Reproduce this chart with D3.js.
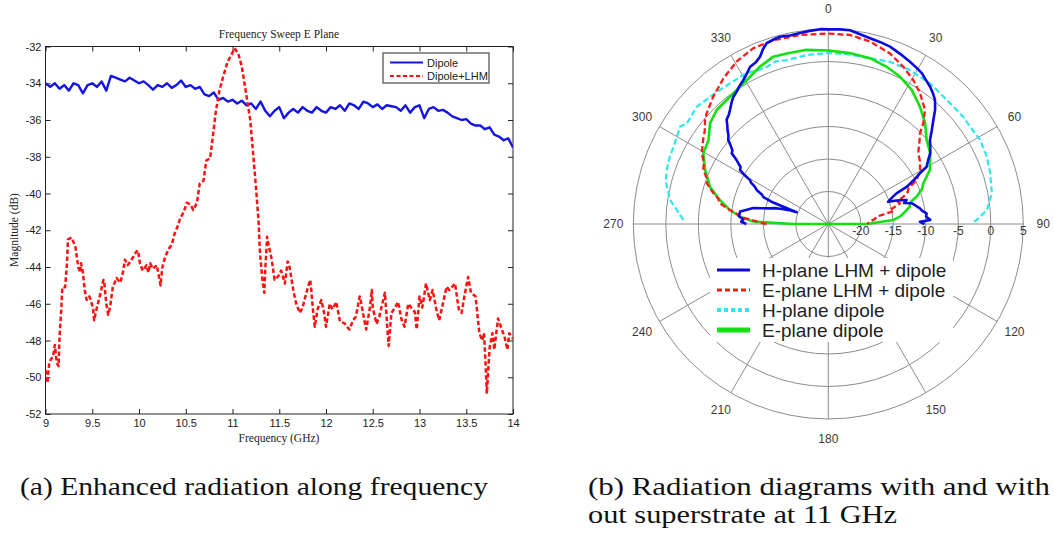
<!DOCTYPE html>
<html>
<head>
<meta charset="utf-8">
<script src="https://cdn.jsdelivr.net/npm/d3@7"></script>
<style>
  body { margin: 0; background: #fff; }
  svg { display: block; }
</style>
</head>
<body>
<svg id="fig" width="1054" height="536"></svg>
<script>
// ---------- (a) frequency sweep, E plane ----------
const freqTicks = [9, 9.5, 10, 10.5, 11, 11.5, 12, 12.5, 13, 13.5, 14];
const freqTickLabels = ["9", "9.5", "10", "10.5", "11", "11.5", "12", "12.5", "13", "13.5", "14"];
const magTicks = [-52, -50, -48, -46, -44, -42, -40, -38, -36, -34, -32];
const magTickLabels = ["-52", "-50", "-48", "-46", "-44", "-42", "-40", "-38", "-36", "-34", "-32"];
const sweepSeries = ["Dipole", "Dipole+LHM"];

// Dipole alone: frequency (GHz) and magnitude (dB)
const dipoleFreq = [9.00,9.05,9.10,9.15,9.20,9.25,9.30,9.35,9.40,9.45,9.50,9.55,9.60,9.65,9.70,9.75,9.80,9.85,9.90,9.95,
  10.00,10.05,10.10,10.15,10.20,10.25,10.30,10.35,10.40,10.45,10.50,10.55,10.60,10.65,10.70,10.75,10.80,10.85,10.90,10.95,
  11.00,11.05,11.10,11.15,11.20,11.25,11.30,11.35,11.40,11.45,11.50,11.55,11.60,11.65,11.70,11.75,11.80,11.85,11.90,11.95,
  12.00,12.05,12.10,12.15,12.20,12.25,12.30,12.35,12.40,12.45,12.50,12.55,12.60,12.65,12.70,12.75,12.80,12.85,12.90,12.95,
  13.00,13.05,13.10,13.15,13.20,13.25,13.30,13.35,13.40,13.45,13.50,13.55,13.60,13.65,13.70,13.75,13.80,13.85,13.90,13.95,14.00];
const dipoleMag = [-34.0,-34.2,-34.0,-34.3,-34.1,-34.4,-34.0,-34.1,-34.55,-34.1,-34.0,-34.2,-33.9,-34.4,-33.6,-33.7,-33.8,-33.9,-33.7,-33.85,
  -34.0,-33.9,-34.1,-34.35,-34.1,-34.2,-34.0,-34.25,-34.1,-33.85,-34.2,-34.1,-34.3,-34.2,-34.6,-34.7,-34.5,-34.9,-34.8,-35.0,
  -34.9,-35.1,-34.95,-35.2,-35.1,-35.4,-35.0,-35.5,-35.8,-35.5,-35.3,-35.9,-35.6,-35.4,-35.6,-35.3,-35.5,-35.6,-35.3,-35.5,
  -35.6,-35.3,-35.4,-35.2,-35.5,-35.1,-35.2,-35.4,-35.0,-35.1,-35.3,-35.15,-35.4,-35.2,-35.25,-35.3,-35.5,-35.2,-35.6,-35.3,
  -35.2,-35.9,-35.4,-35.3,-35.5,-35.45,-35.6,-35.8,-35.9,-36.0,-35.95,-36.2,-36.3,-36.3,-36.5,-36.4,-36.8,-36.9,-37.1,-37.0,-37.5];

// Dipole with LHM superstrate
const lhmFreq = [9.00,9.02,9.04,9.06,9.08,9.10,9.12,9.14,9.15,9.17,9.18,9.21,9.23,9.24,9.28,9.32,9.35,9.37,9.38,9.40,
  9.42,9.44,9.47,9.49,9.51,9.52,9.55,9.58,9.60,9.62,9.63,9.65,9.67,9.69,9.72,9.76,9.80,9.83,9.85,9.88,
  9.92,9.97,9.99,10.01,10.04,10.08,10.10,10.12,10.15,10.19,10.22,10.23,10.25,10.28,10.32,10.35,10.38,10.42,10.44,10.48,
  10.51,10.55,10.58,10.62,10.65,10.69,10.72,10.76,10.79,10.82,10.86,10.90,10.95,10.99,11.02,11.06,11.10,11.15,11.19,11.22,
  11.25,11.28,11.29,11.30,11.32,11.34,11.35,11.37,11.39,11.42,11.45,11.49,11.52,11.56,11.59,11.61,11.65,11.68,11.72,11.75,
  11.79,11.83,11.84,11.86,11.88,11.91,11.95,11.98,12.00,12.04,12.07,12.11,12.15,12.20,12.25,12.29,12.32,12.36,12.37,12.41,
  12.43,12.47,12.49,12.50,12.54,12.57,12.63,12.66,12.67,12.70,12.74,12.77,12.81,12.84,12.88,12.91,12.95,12.97,13.00,13.03,
  13.07,13.11,13.14,13.18,13.21,13.25,13.29,13.32,13.38,13.42,13.45,13.48,13.52,13.55,13.60,13.64,13.67,13.69,13.71,13.72,
  13.75,13.78,13.80,13.84,13.88,13.91,13.94,13.96,14.00];
const lhmMag = [-49.6,-50.3,-49.2,-49.0,-48.9,-48.25,-49.2,-49.4,-47.8,-46.2,-45.1,-45.1,-43.8,-42.5,-42.4,-42.9,-44.0,-44.3,-43.8,-44.3,
  -45.25,-45.8,-45.6,-45.9,-46.3,-46.9,-46.2,-45.6,-45.15,-44.7,-44.9,-46.0,-46.6,-46.2,-45.1,-44.6,-44.85,-44.25,-43.6,-43.9,
  -43.6,-43.17,-43.1,-43.8,-44.2,-43.9,-44.3,-43.8,-44.1,-43.9,-44.7,-45.0,-44.0,-43.44,-43.0,-42.8,-42.2,-41.7,-41.35,-41.0,
  -40.5,-40.6,-40.9,-40.5,-39.45,-39.3,-38.2,-38.1,-36.9,-35.6,-34.4,-33.64,-32.8,-32.45,-32.1,-32.35,-33.1,-34.7,-36.0,-37.8,
  -39.6,-41.6,-42.9,-43.6,-44.7,-45.4,-44.2,-42.35,-42.9,-43.6,-44.7,-44.5,-44.2,-44.9,-43.7,-44.0,-45.25,-45.97,-46.5,-46.2,
  -45.4,-44.7,-45.1,-46.3,-47.25,-46.3,-45.8,-46.5,-47.25,-46.0,-46.3,-45.9,-46.98,-47.07,-47.4,-46.9,-46.7,-45.6,-45.8,-46.9,
  -47.4,-46.2,-45.25,-46.2,-47.1,-46.7,-45.4,-47.6,-48.3,-46.5,-46.2,-45.9,-46.9,-47.25,-46.0,-46.2,-46.45,-47.4,-45.6,-46.2,
  -44.9,-45.8,-45.25,-46.3,-46.9,-46.0,-45.07,-45.25,-44.9,-46.3,-46.5,-45.6,-44.54,-45.4,-45.6,-47.6,-48.0,-47.6,-49.6,-50.9,
  -48.4,-47.6,-48.5,-46.8,-47.4,-47.8,-48.5,-47.6,-47.9];

// ---------- (b) radiation diagrams at 11 GHz ----------
const angleTicks = [0, 30, 60, 90, 120, 150, 180, 210, 240, 270, 300, 330];
const ringValues = [-20, -15, -10, -5, 0, 5];
const ringLabels = ["-20", "-15", "-10", "-5", "0", "5"];
const patternSeries = ["H-plane LHM + dipole", "E-plane LHM + dipole", "H-plane dipole", "E-plane dipole"];

// [angle in degrees clockwise from broadside, level in dB]
const hPlaneLhm = [[-90,-12.4],[-88.5,-11.6],[-87,-11.9],[-85,-11.2],[-82,-11.3],[-80,-12.3],[-78,-13.2],[-76.5,-14.6],[-75,-15.7],
  [-73.5,-16.4],[-72,-17.5],[-70.5,-18.6],[-69.5,-19.8],[-69,-17.6],[-68.6,-15.6],[-67.5,-14.2],[-66,-13.8],[-64.6,-12.8],
  [-63,-12.3],[-61.8,-11.5],[-60.7,-11.2],[-59.5,-9.9],[-58.6,-9.1],[-57,-8.9],[-55.8,-8.2],[-55.1,-7.8],[-53.8,-6.6],
  [-52.5,-6.4],[-51,-5.6],[-50,-4.9],[-48.5,-4.5],[-47,-3.8],[-45.5,-3.2],[-44.3,-2.6],[-42.5,-2.3],[-40.8,-1.85],
  [-38.5,-1.1],[-36.7,-0.57],[-34.5,-0.2],[-33,0.2],[-30.6,0.7],[-28.5,1.3],[-26.5,2.0],[-24,2.3],[-22.2,2.8],[-20.5,3.7],
  [-18.8,4.4],[-16.5,4.6],[-14.5,4.75],[-11.5,4.6],[-8.4,4.7],[-5.5,4.85],[-2.4,5.0],[0.5,4.95],[3.5,5.0],[6.4,5.0],
  [9.5,4.6],[12.7,4.3],[16,4.1],[19.2,3.9],[23,3.4],[26.7,2.95],[29.5,2.6],[31.8,2.3],[34,1.8],[36.5,1.3],[38.5,0.8],
  [40.7,0.17],[43,-0.9],[45.3,-2.26],[48,-3.6],[50.4,-4.7],[52.8,-5.3],[55.2,-5.9],[57.5,-6.8],[59.8,-7.5],[61,-8.9],
  [62.8,-10.2],[64.6,-11.6],[65.8,-13.5],[67.5,-14.4],[69.6,-15.2],[71,-13.9],[73,-12.4],[74.5,-12.9],[76,-11.8],
  [78,-11.3],[80.3,-10.7],[82,-10.4],[83.8,-9.8],[85.8,-9.9],[87.7,-9.3],[88.6,-10.9],[90,-10.2]];
const ePlaneLhm = [[-90,-15.5],[-89.4,-15],[-87,-13.2],[-85.3,-11.4],[-83.5,-10.8],[-81.9,-9.7],[-79.2,-8.0],[-77,-7.6],[-75,-6.7],
  [-71.5,-5.3],[-69,-4.9],[-66.6,-4.05],[-63.5,-3.6],[-60.8,-2.7],[-56.1,-1.8],[-53,-1.2],[-49.9,-0.2],[-47.7,0.3],
  [-42.1,1.4],[-35.8,2.6],[-29.4,3.7],[-23.1,4.4],[-16.6,4.5],[-8.5,4.4],[0,4.3],[6.5,4.27],[12.9,3.8],[19.9,2.9],
  [25.5,1.8],[30.6,0.7],[35,-0.4],[40.3,-2.0],[43.3,-3.7],[45.3,-5.15],[48.5,-6.3],[51.8,-7.4],[55.5,-7.9],[59.5,-8.6],
  [63.5,-9.8],[66,-11.5],[68,-11.8],[70,-12.7],[72,-13.8],[74,-13.5],[77.2,-15.3],[79,-15.0],[81.4,-17.5],[84,-17.8],
  [86.8,-18.6],[90,-19]];
const hPlaneDipole = [[-88.4,-2.7],[-84.7,-1.6],[-81.4,-0.4],[-77,0.5],[-74.8,0.9],[-71.5,1.2],[-67,1.5],[-63.5,1.6],[-60,1.9],
  [-56.7,2.3],[-54.6,1.7],[-51,1.9],[-48.3,2.1],[-42.9,1.7],[-38,1.5],[-34.9,1.4],[-28.4,1.4],[-24,1.0],[-21.8,0.9],
  [-17.9,1.3],[-14.2,1.0],[-7.3,1.2],[0,1.3],[6,1.3],[14,1.3],[20.8,1.7],[27.9,1.8],[35.9,1.7],[43.7,1.4],[51.5,1.5],
  [55.5,1.45],[61,1.7],[67,1.5],[72.6,1.1],[79.4,0.6],[85,-0.5],[88.5,-2.2],[89.7,-2.9]];
const ePlaneDipole = [[-90,-25],[-89.9,-19.6],[-88.2,-13.5],[-85.3,-11.4],[-81.9,-9.7],[-77.5,-7.9],[-72.5,-5.9],[-66.3,-4.3],
  [-60.5,-2.9],[-55,-2.5],[-49.6,-1.1],[-44.4,-0.46],[-37.7,-0.26],[-29.5,0.46],[-23.5,1.4],[-18.2,2.1],[-13.7,2.0],
  [-7.1,2.0],[0,1.7],[7.2,1.5],[14.1,1.3],[20.4,0.8],[26,0.2],[31.9,-0.7],[38,-2.1],[43.8,-3.5],[49.5,-5.1],[55.2,-5.9],
  [62,-7.3],[66.8,-9.1],[69.5,-9.6],[72.8,-10.8],[75,-11.9],[78,-12.2],[81.9,-13.3],[84,-13.9],[86.5,-15],[89.9,-19.1],[90,-25]];

// captions under each panel
const captionA = "(a) Enhanced radiation along frequency";
const captionB = ["(b) Radiation diagrams with and with", "out superstrate at 11 GHz"];

const svg = d3.select("#fig");
const sans = "'Liberation Sans', Arial, Helvetica, sans-serif";
const serif = "'Liberation Serif', 'Times New Roman', serif";

// ===== Panel (a) =====
const x = d3.scaleLinear().domain([9, 14]).range([45.5, 513]);
const y = d3.scaleLinear().domain([-52, -32]).range([414, 46.5]);
const pa = svg.append("g");

const styleAxis = g => {
  g.select(".domain").remove();
  g.selectAll(".tick line").attr("stroke", "#222");
  g.selectAll("text").attr("font-family", sans).attr("font-size", 11).attr("fill", "#222");
};
pa.append("g").attr("transform", "translate(0,414)")
  .call(d3.axisBottom(x).tickValues(freqTicks).tickSize(-5).tickPadding(5)
    .tickFormat((d, i) => freqTickLabels[i])).call(styleAxis);
pa.append("g").attr("transform", "translate(0,46.5)")
  .call(d3.axisTop(x).tickValues(freqTicks).tickSize(-5).tickFormat("")).call(styleAxis);
pa.append("g").attr("transform", "translate(45.5,0)")
  .call(d3.axisLeft(y).tickValues(magTicks).tickSize(-5).tickPadding(4)
    .tickFormat((d, i) => magTickLabels[i])).call(styleAxis);
pa.append("g").attr("transform", "translate(513,0)")
  .call(d3.axisRight(y).tickValues(magTicks).tickSize(-5).tickFormat("")).call(styleAxis);

pa.append("rect").attr("x", x(9)).attr("y", y(-32))
  .attr("width", x(14) - x(9)).attr("height", y(-52) - y(-32))
  .attr("fill", "none").attr("stroke", "#222").attr("stroke-width", 1);

const sweepLine = d3.line().x(d => x(d[0])).y(d => y(d[1]));
svg.append("clipPath").attr("id", "clipA").append("rect")
  .attr("x", x(9)).attr("y", y(-32) - 1).attr("width", x(14) - x(9)).attr("height", y(-52) - y(-32) + 2);

pa.append("path").datum(dipoleFreq.map((f, i) => [f, dipoleMag[i]]))
  .attr("d", sweepLine).attr("fill", "none").attr("stroke", "#1414e6")
  .attr("stroke-width", 2.4).attr("stroke-linejoin", "round").attr("clip-path", "url(#clipA)");
pa.append("path").datum(lhmFreq.map((f, i) => [f, lhmMag[i]]))
  .attr("d", sweepLine).attr("fill", "none").attr("stroke", "#ff1010")
  .attr("stroke-width", 2.5).attr("stroke-dasharray", "4.5,2.5").attr("stroke-linejoin", "round")
  .attr("clip-path", "url(#clipA)");

// title and axis titles
pa.append("text").attr("x", 279).attr("y", 38).attr("text-anchor", "middle")
  .attr("font-family", serif).attr("font-size", 11.5).attr("fill", "#222").text("Frequency Sweep E Plane");
pa.append("text").attr("x", 279).attr("y", 442).attr("text-anchor", "middle")
  .attr("font-family", serif).attr("font-size", 11.5).attr("fill", "#222").text("Frequency (GHz)");
pa.append("text").attr("transform", "translate(18,230) rotate(-90)").attr("text-anchor", "middle")
  .attr("font-family", serif).attr("font-size", 11.5).attr("fill", "#222").text("Magnitude (dB)");

// legend
const legA = pa.append("g");
legA.append("rect").attr("x", 383).attr("y", 53).attr("width", 106).attr("height", 30)
  .attr("fill", "#fff").attr("stroke", "#222").attr("stroke-width", 1);
const legAStyles = [{ c: "#1414e6", dash: null }, { c: "#ff1010", dash: "4,2.5" }];
sweepSeries.forEach((s, i) => {
  const yy = 62.5 + i * 13.5;
  legA.append("line").attr("x1", 390).attr("x2", 423).attr("y1", yy).attr("y2", yy)
    .attr("stroke", legAStyles[i].c).attr("stroke-width", 2).attr("stroke-dasharray", legAStyles[i].dash);
  legA.append("text").attr("x", 427).attr("y", yy + 4).attr("font-family", sans)
    .attr("font-size", 11).attr("fill", "#222").text(s);
});

// ===== Panel (b) =====
const cx = 828.3, cy = 224;
const r = d3.scaleLinear().domain([-25, 5]).range([0, 195]).clamp(true);
const pb = svg.append("g").attr("transform", `translate(${cx},${cy})`);
const rad = a => a * Math.PI / 180;

pb.selectAll("circle.ring").data(ringValues).join("circle")
  .attr("r", d => r(d)).attr("fill", "none").attr("stroke", "#8c8c8c").attr("stroke-width", 1);
pb.selectAll("line.spoke").data(angleTicks).join("line")
  .attr("x1", 0).attr("y1", 0)
  .attr("x2", d => r(5) * Math.sin(rad(d))).attr("y2", d => -r(5) * Math.cos(rad(d)))
  .attr("stroke", "#8c8c8c").attr("stroke-width", 1);

pb.selectAll("text.ang").data(angleTicks).join("text")
  .attr("x", d => 215 * Math.sin(rad(d))).attr("y", d => -215 * Math.cos(rad(d)))
  .attr("dy", "0.35em").attr("text-anchor", "middle")
  .attr("font-family", sans).attr("font-size", 12).attr("fill", "#3a3a3a").text(d => d);
pb.selectAll("text.rl").data(ringValues).join("text")
  .attr("x", d => r(d)).attr("y", 11).attr("text-anchor", "middle")
  .attr("font-family", sans).attr("font-size", 12).attr("fill", "#3a3a3a")
  .text((d, i) => ringLabels[i]);

const radial = d3.lineRadial().angle(d => rad(d[0])).radius(d => r(d[1]));
const patternStyles = [
  { data: hPlaneDipole, c: "#2ee6f0", w: 2.2, dash: "6,3" },
  { data: ePlaneDipole, c: "#12e012", w: 2.6, dash: null },
  { data: ePlaneLhm, c: "#ff1a1a", w: 2.3, dash: "6,3" },
  { data: hPlaneLhm, c: "#0a0ae0", w: 2.6, dash: null }
];
patternStyles.forEach(p => {
  pb.append("path").datum(p.data).attr("d", radial).attr("fill", "none")
    .attr("stroke", p.c).attr("stroke-width", p.w).attr("stroke-dasharray", p.dash)
    .attr("stroke-linejoin", "round");
});

// legend (white box hides the grid underneath)
const legB = svg.append("g");
legB.append("rect").attr("x", 710).attr("y", 258).attr("width", 243).attr("height", 84).attr("fill", "#fff");
const legBStyles = [
  { c: "#0a0ae0", w: 3, dash: null },
  { c: "#ff1a1a", w: 3, dash: "5,3" },
  { c: "#2ee6f0", w: 4, dash: "4,3" },
  { c: "#12e012", w: 5, dash: null }
];
patternSeries.forEach((s, i) => {
  const yy = 270 + i * 20;
  legB.append("line").attr("x1", 717).attr("x2", 750).attr("y1", yy).attr("y2", yy)
    .attr("stroke", legBStyles[i].c).attr("stroke-width", legBStyles[i].w)
    .attr("stroke-dasharray", legBStyles[i].dash);
  legB.append("text").attr("x", 762).attr("y", yy + 7).attr("font-family", sans)
    .attr("font-size", 19).attr("fill", "#222").text(s);
});

// ===== Captions =====
svg.append("text").attr("x", 20).attr("y", 495).attr("font-family", serif).attr("font-size", 26)
  .attr("fill", "#111").attr("textLength", 468).attr("lengthAdjust", "spacingAndGlyphs").text(captionA);
svg.append("text").attr("x", 588).attr("y", 495).attr("font-family", serif).attr("font-size", 26)
  .attr("fill", "#111").attr("textLength", 462).attr("lengthAdjust", "spacingAndGlyphs").text(captionB[0]);
svg.append("text").attr("x", 588).attr("y", 523).attr("font-family", serif).attr("font-size", 26)
  .attr("fill", "#111").attr("textLength", 309).attr("lengthAdjust", "spacingAndGlyphs").text(captionB[1]);
</script>
</body>
</html>
